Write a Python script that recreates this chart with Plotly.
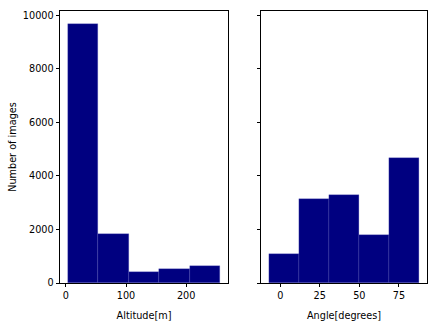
import numpy as np
import plotly.graph_objects as go
from plotly.subplots import make_subplots

# Data
alt_range = [3.0, 257.0]          # data min/max of altitude [m]
alt_counts = [9670, 1824, 427, 513, 625]
ang_range = [-7.3, 88.0]          # data min/max of angle [deg]
ang_counts = [1074, 3150, 3281, 1800, 4667]
alt_ticks = [0, 100, 200]
ang_ticks = [0, 25, 50, 75]
y_ticks = [0, 2000, 4000, 6000, 8000, 10000]

FONT = "DejaVu Sans"
FS = 9.7
BAR = "#000080"
EDGE = "rgba(90,90,190,0.5)"

def bins(rng, n):
    edges = np.linspace(rng[0], rng[1], n + 1)
    return (edges[:-1] + edges[1:]) / 2, np.diff(edges)

def mpl_range(rng):
    span = rng[1] - rng[0]
    return [rng[0] - 0.05 * span, rng[1] + 0.05 * span]

fig = make_subplots(rows=1, cols=2, shared_yaxes=True, horizontal_spacing=0.09)

c, w = bins(alt_range, len(alt_counts))
fig.add_trace(go.Bar(x=c, y=alt_counts, width=w, marker=dict(color=BAR, line=dict(color=EDGE, width=0.5)), showlegend=False), 1, 1)
c, w = bins(ang_range, len(ang_counts))
fig.add_trace(go.Bar(x=c, y=ang_counts, width=w, marker=dict(color=BAR, line=dict(color=EDGE, width=0.5)), showlegend=False), 1, 2)

ymax = max(max(alt_counts), max(ang_counts)) * 1.05

axis_common = dict(showline=True, linecolor="black", linewidth=0.8, mirror=True,
                   ticks="outside", ticklen=3.5, tickwidth=0.8, tickcolor="black",
                   showgrid=False, zeroline=False, automargin=False,
                   tickfont=dict(family=FONT, size=FS, color="black"))

fig.update_xaxes(**axis_common)
fig.update_yaxes(**axis_common)

tfont = dict(family=FONT, size=FS, color="black")
fig.update_xaxes(range=mpl_range(alt_range), tickvals=alt_ticks, ticktext=[str(t) for t in alt_ticks],
                 domain=[0, 0.458],
                 title=dict(text="Altitude[m]", font=tfont, standoff=12), row=1, col=1)
fig.update_xaxes(range=mpl_range(ang_range), tickvals=ang_ticks, ticktext=[str(t) for t in ang_ticks],
                 domain=[0.548, 1],
                 title=dict(text="Angle[degrees]", font=tfont, standoff=12), row=1, col=2)
fig.update_yaxes(range=[0, ymax], tickvals=y_ticks, ticktext=[str(t) for t in y_ticks],
                 title=dict(text="Number of images", font=tfont, standoff=4), row=1, col=1)
fig.update_yaxes(range=[0, ymax], tickvals=y_ticks, showticklabels=False, row=1, col=2)

fig.update_layout(width=438, height=328, margin=dict(l=60, r=11, t=11, b=45),
                  paper_bgcolor="white", plot_bgcolor="white", bargap=0,
                  font=dict(family=FONT, size=FS, color="black"))

fig.write_html("out.html", config={"displayModeBar": False},
               post_script="document.body.style.margin='0';document.body.style.overflow='hidden';")
